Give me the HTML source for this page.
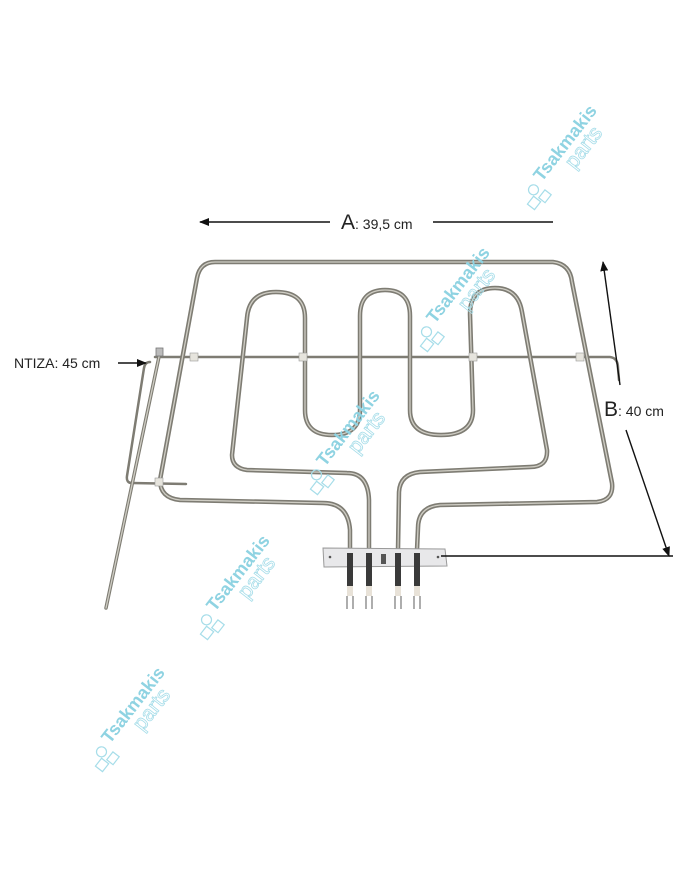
<!DOCTYPE html>
<html><head><meta charset="utf-8"><style>
html,body{margin:0;padding:0;background:#fff;}
svg{display:block;}
.wm1{font-family:"Liberation Sans",sans-serif;font-weight:bold;font-size:18px;fill:#8fd3e2;}
.wm2{font-family:"Liberation Sans",sans-serif;font-size:21px;fill:none;stroke:#a6dde9;stroke-width:0.8;}
.lbl{font-family:"Liberation Sans",sans-serif;fill:#222;}
</style></head><body>
<svg width="700" height="869" viewBox="0 0 700 869" xmlns="http://www.w3.org/2000/svg">
<defs>
<marker id="ah" markerWidth="10" markerHeight="8" refX="9" refY="4" orient="auto" markerUnits="userSpaceOnUse">
<path d="M0,0 L10,4 L0,8 z" fill="#111"/></marker>
<g id="wm">
<text class="wm1" x="16" y="0">Tsakmakis</text>
<text class="wm2" x="46" y="18">parts</text>
<g fill="none" stroke="#a6dde9" stroke-width="1.2"><circle cx="5" cy="-2" r="5"/><rect x="2" y="7" width="10" height="8"/><rect x="-10" y="2" width="10" height="9"/></g>
</g>
</defs>
<rect width="700" height="869" fill="#fff"/>

<g fill="none" stroke-linecap="round" stroke-linejoin="round">
<g stroke="#7e7c73" stroke-width="4.5">
<path d="M350,550 L350,530 Q348,503 323,503 L180,500 Q160,498 160,480 L197,278 Q200,262 215,262 L553,262 Q570,264 572,282 L612,483 Q614,500 597,502 L440,505 Q418,507 418,528 L417,550"/>
<path d="M369,550 L369,500 Q368,473 347,473 L247,470 Q232,468 232,455 L247,318 Q249,292 276,292 Q305,292 305,318 L305,410 Q305,435 332,435 Q360,435 360,410 L360,316 Q360,290 385,290 Q410,290 410,316 L410,410 Q410,435 441,435 Q473,435 473,410 L470,314 Q470,288 495,288 Q518,288 522,312 L547,450 Q548,467 530,467 L420,472 Q400,474 399,492 L398,550"/>
<path d="M155,357 L610,357 Q618,358 618,368 L619,380" stroke-width="2.5"/>
<path d="M160,352 L106,608" stroke-width="3.5"/>
<path d="M150,362 Q145,362 144,368 L127,476 Q126,483 132,483 L186,484" stroke-width="2.5"/>
</g>
<g stroke="#cfcdc4" stroke-width="1.3">
<path d="M350,550 L350,530 Q348,503 323,503 L180,500 Q160,498 160,480 L197,278 Q200,262 215,262 L553,262 Q570,264 572,282 L612,483 Q614,500 597,502 L440,505 Q418,507 418,528 L417,550"/>
<path d="M369,550 L369,500 Q368,473 347,473 L247,470 Q232,468 232,455 L247,318 Q249,292 276,292 Q305,292 305,318 L305,410 Q305,435 332,435 Q360,435 360,410 L360,316 Q360,290 385,290 Q410,290 410,316 L410,410 Q410,435 441,435 Q473,435 473,410 L470,314 Q470,288 495,288 Q518,288 522,312 L547,450 Q548,467 530,467 L420,472 Q400,474 399,492 L398,550"/>
<path d="M160,352 L106,608"/>
</g>
</g>
<rect x="156" y="348" width="7" height="8" fill="#bbb" stroke="#777" stroke-width="0.8"/>
<g fill="#e6e4dd" stroke="#999" stroke-width="0.6">
<rect x="190" y="353" width="8" height="8"/><rect x="299" y="353" width="8" height="8"/><rect x="469" y="353" width="8" height="8"/><rect x="576" y="353" width="8" height="8"/><rect x="155" y="478" width="8" height="8"/>
</g>
<path d="M323,548 L445,549 L447,566 L324,567 z" fill="#e8e8ea" stroke="#999" stroke-width="1"/>
<circle cx="330" cy="557" r="1.3" fill="#555"/><circle cx="438" cy="557" r="1.3" fill="#555"/>
<rect x="381" y="554" width="5" height="10" fill="#555"/>
<g>
<rect x="347" y="553" width="6" height="33" fill="#3a3a3a"/><rect x="366" y="553" width="6" height="33" fill="#3a3a3a"/><rect x="395" y="553" width="6" height="33" fill="#3a3a3a"/><rect x="414" y="553" width="6" height="33" fill="#3a3a3a"/>
<rect x="347" y="586" width="6" height="10" fill="#e8e2d8"/><rect x="366" y="586" width="6" height="10" fill="#e8e2d8"/><rect x="395" y="586" width="6" height="10" fill="#e8e2d8"/><rect x="414" y="586" width="6" height="10" fill="#e8e2d8"/>
<g stroke="#777" stroke-width="1.2"><path d="M347,596 L347,609 M353,596 L353,609 M366,596 L366,609 M372,596 L372,609 M395,596 L395,609 M401,596 L401,609 M414,596 L414,609 M420,596 L420,609"/></g>
</g>

<g stroke="#111" stroke-width="1.4" fill="none">
<line x1="330" y1="222" x2="200" y2="222" marker-end="url(#ah)"/>
<line x1="433" y1="222" x2="553" y2="222"/>
<line x1="620" y1="385" x2="603" y2="262" marker-end="url(#ah)"/>
<line x1="626" y1="430" x2="669" y2="556" marker-end="url(#ah)"/>
<line x1="441" y1="556" x2="673" y2="556"/>
<line x1="118" y1="363" x2="146" y2="363" marker-end="url(#ah)"/>
</g>
<text class="lbl" x="341" y="229" font-size="21">A<tspan font-size="14">: 39,5 cm</tspan></text>
<text class="lbl" x="604" y="416" font-size="21">B<tspan font-size="14">: 40 cm</tspan></text>
<text class="lbl" x="14" y="368" font-size="14">NTIZA: 45 cm</text>

<use href="#wm" transform="translate(532,195) rotate(-52)"/>
<use href="#wm" transform="translate(425,337) rotate(-52)"/>
<use href="#wm" transform="translate(315,480) rotate(-52)"/>
<use href="#wm" transform="translate(205,625) rotate(-52)"/>
<use href="#wm" transform="translate(100,757) rotate(-52)"/>
</svg>
</body></html>
